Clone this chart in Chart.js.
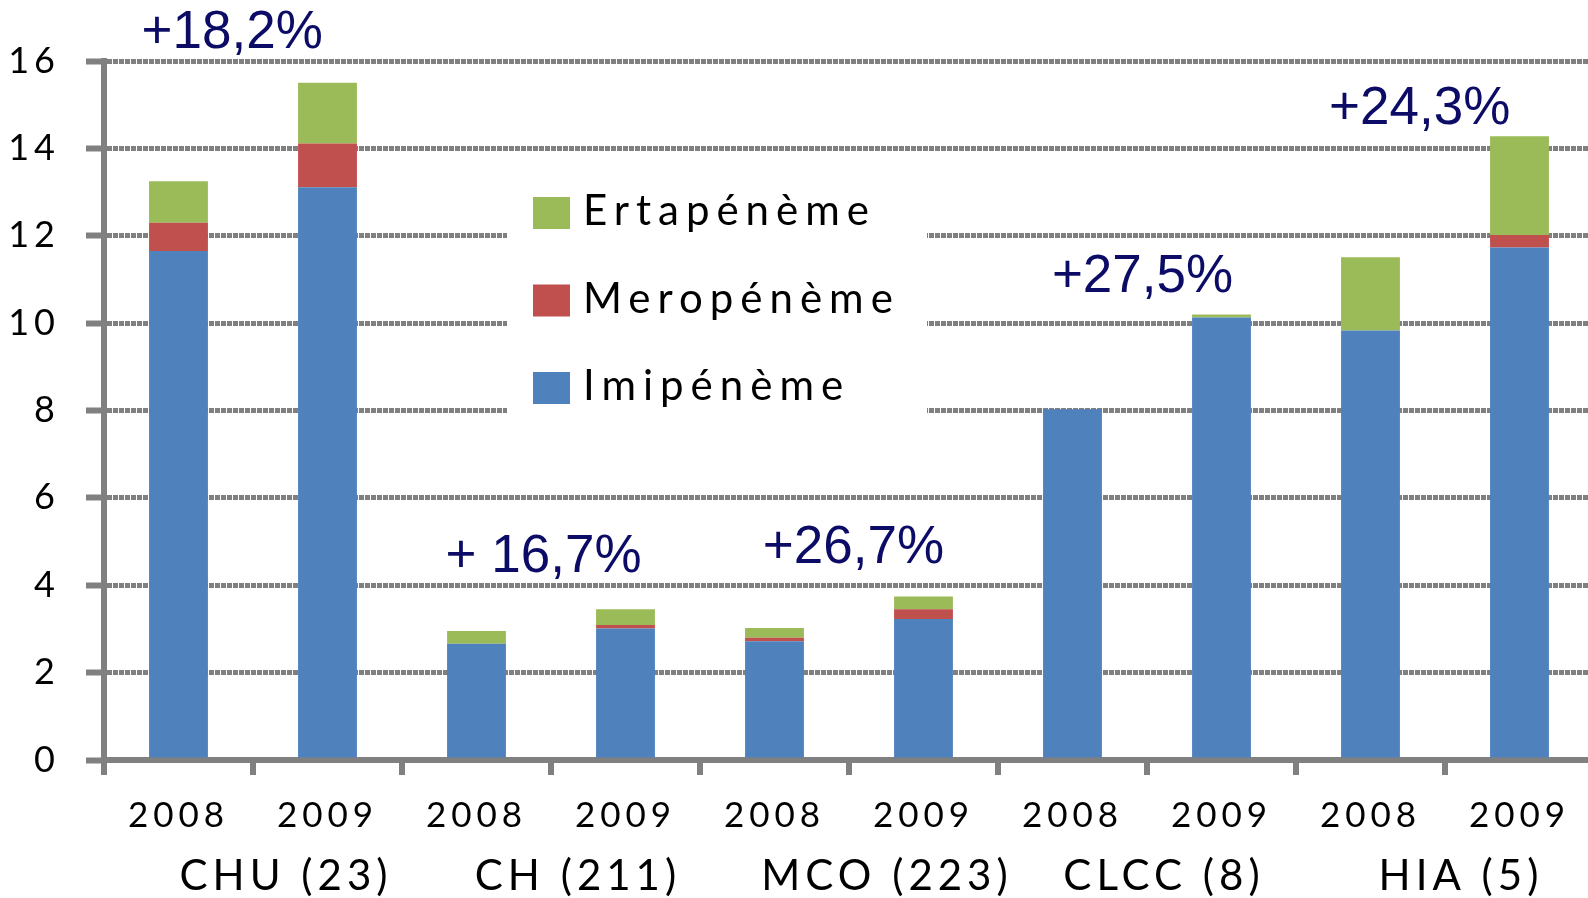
<!DOCTYPE html>
<html>
<head>
<meta charset="utf-8">
<script src="https://cdn.jsdelivr.net/npm/chart.js@4.4.1/dist/chart.umd.min.js"></script>
<style>
html, body { margin: 0; padding: 0; background: #fff; overflow: hidden; }
</style>
</head>
<body>
<canvas id="chart" width="1594" height="898"></canvas>
<script>
// data
const years = ['2008', '2009', '2008', '2009', '2008', '2009', '2008', '2009', '2008', '2009'];
const groups = ['CHU (23)', 'CH (211)', 'MCO (223)', 'CLCC (8)', 'HIA (5)'];
const seriesNames = ['Imipénème', 'Meropénème', 'Ertapénème'];
const imipeneme  = [11.65, 13.11, 2.66, 3.01, 2.72, 3.23, 8.03, 10.13, 9.83, 11.73];
const meropeneme = [0.65, 1.00, 0.00, 0.08, 0.08, 0.22, 0.00, 0.00, 0.00, 0.29];
const ertapeneme = [0.95, 1.39, 0.29, 0.36, 0.22, 0.29, 0.00, 0.07, 1.68, 2.26];
const yMax = 16;
const yStep = 2;
const changeLabels = ['+18,2%', '+ 16,7%', '+26,7%', '+27,5%', '+24,3%'];
// where each change label sits (category index, value)
const changeAt = [0.36, 2.45, 4.53, 6.47, 8.33];
const changeLevel = [16.3, 4.3, 4.51, 10.71, 14.56];

// styles
const colors = ['#4f81bd', '#c0504d', '#9bbb59'];
const axisGrey = '#808080';
const navy = '#0c0c66';
const groupShift = [33, 27, 38, 17, 16];

const overlay = {
    id: 'overlay',
    beforeDraw(chart) {
        chart.ctx.letterSpacing = '5px';
    },
    beforeDatasetsDraw(chart) {
        const ctx = chart.ctx;
        ctx.save();
        ctx.fillStyle = '#fff';
        ctx.fillRect(507, 165, 420, 250);
        ctx.restore();
    },
    afterDatasetsDraw(chart) {
        const ctx = chart.ctx;
        const xs = chart.scales.x, ys = chart.scales.y;

        // legend, top item = last dataset
        ctx.save();
        ctx.letterSpacing = '7px';
        ctx.font = '42px Lato';
        ctx.textAlign = 'left';
        ctx.textBaseline = 'alphabetic';
        const ds = chart.data.datasets.slice().reverse();
        ds.forEach((d, i) => {
            const base = 225 + i * 87.5;
            ctx.fillStyle = d.backgroundColor;
            ctx.fillRect(533, base - 28, 37, 32);
            ctx.fillStyle = '#000';
            ctx.fillText(d.label, 583, base);
        });
        ctx.restore();

        // growth labels
        ctx.save();
        ctx.letterSpacing = '0px';
        ctx.font = '53px "Liberation Sans", Arial, sans-serif';
        ctx.fillStyle = navy;
        ctx.textAlign = 'center';
        ctx.textBaseline = 'alphabetic';
        changeLabels.forEach((t, i) => {
            ctx.fillText(t, xs.getPixelForValue(changeAt[i]), ys.getPixelForValue(changeLevel[i]));
        });
        ctx.restore();
    },
    afterDraw(chart) {
        const ctx = chart.ctx;
        const xs = chart.scales.x;
        ctx.save();
        ctx.letterSpacing = '5px';
        ctx.font = '42px Lato';
        ctx.fillStyle = '#000';
        ctx.textAlign = 'center';
        ctx.textBaseline = 'alphabetic';
        groups.forEach((g, i) => {
            const mid = (xs.getPixelForValue(i * 2) + xs.getPixelForValue(i * 2 + 1)) / 2;
            ctx.fillText(g, mid + groupShift[i], 890);
        });
        ctx.restore();
    }
};

const ctx = document.getElementById('chart').getContext('2d');
const chart = new Chart(ctx, {
    type: 'bar',
    data: {
        labels: years,
        datasets: [
            { label: seriesNames[0], data: imipeneme, backgroundColor: colors[0] },
            { label: seriesNames[1], data: meropeneme, backgroundColor: colors[1] },
            { label: seriesNames[2], data: ertapeneme, backgroundColor: colors[2] }
        ]
    },
    options: {
        responsive: false,
        animation: false,
        layout: { padding: { top: 61, left: 0, right: 0, bottom: 0 } },
        datasets: { bar: { barPercentage: 1, categoryPercentage: 0.395 } },
        plugins: {
            legend: { display: false },
            tooltip: { enabled: false }
        },
        scales: {
            x: {
                stacked: true,
                offset: true,
                grid: {
                    offset: true,
                    drawOnChartArea: false,
                    drawTicks: true,
                    tickLength: 15,
                    tickWidth: 6,
                    tickColor: axisGrey,
                    color: axisGrey,
                    lineWidth: 6
                },
                border: { color: axisGrey, width: 6 },
                ticks: {
                    color: '#000',
                    font: { family: 'Lato', size: 35 },
                    padding: 20,
                    maxRotation: 0,
                    autoSkip: false
                },
                afterFit: s => { s.height = 138; }
            },
            y: {
                stacked: true,
                min: 0,
                max: yMax,
                grid: {
                    color: axisGrey,
                    lineWidth: 5,
                    tickLength: 18,
                    tickWidth: 6,
                    tickColor: axisGrey,
                    tickBorderDash: []
                },
                border: { color: axisGrey, width: 6, dash: [5, 1] },
                ticks: {
                    stepSize: yStep,
                    color: '#000',
                    font: { family: 'Lato', size: 36 },
                    padding: 26
                },
                afterFit: s => { s.width = 104; }
            }
        }
    },
    plugins: [overlay]
});
</script>
</body>
</html>
